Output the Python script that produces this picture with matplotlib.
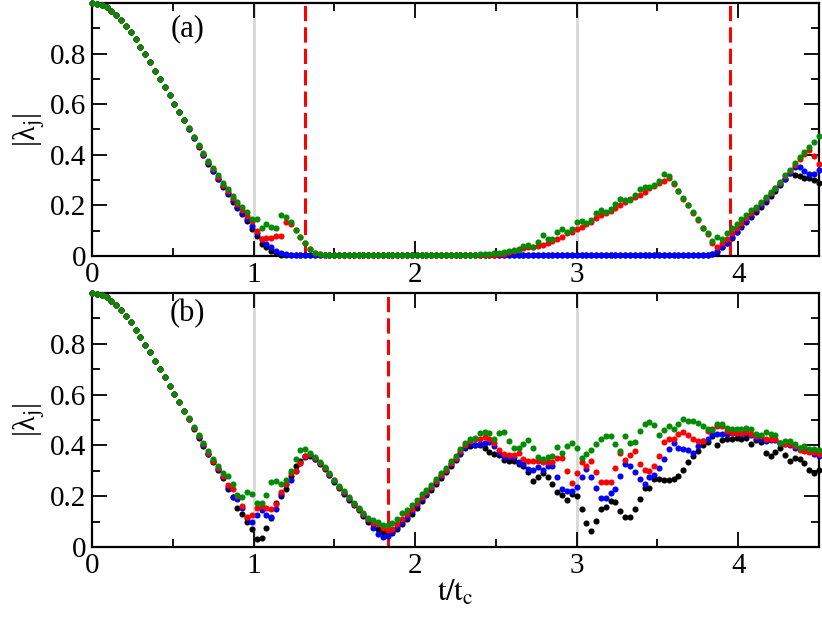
import numpy as np
import matplotlib
matplotlib.use('Agg')
import matplotlib.pyplot as plt
from matplotlib.ticker import MultipleLocator, FixedLocator

plt.rcParams['font.family'] = ['Liberation Serif', 'DejaVu Serif']
plt.rcParams['mathtext.fontset'] = 'stix'

# ── data: |lambda_j| sampled every DT in t/t_c ────────────────────────────────
DT = 0.03

# shared initial decay (t = 0 .. 0.57), identical for all curves in both panels
decay = [1.000, 0.998, 0.993, 0.983, 0.970, 0.953, 0.933, 0.909, 0.884, 0.856,
         0.827, 0.797, 0.766, 0.732, 0.701, 0.669, 0.635, 0.602, 0.570, 0.537]

# panel (a)
green_a = decay + [
    0.506, 0.472, 0.439, 0.408, 0.377,
    0.347, 0.320, 0.290, 0.265, 0.237, 0.215, 0.192, 0.175, 0.148, 0.147,
    0.109, 0.126, 0.113, 0.112, 0.161, 0.154, 0.136, 0.104, 0.075, 0.053,
    0.029, 0.012, 0.006, 0.005, 0.005, 0.005, 0.005, 0.005, 0.005, 0.005,
    0.005, 0.005, 0.005, 0.005, 0.005, 0.005, 0.005, 0.005, 0.005, 0.005,
    0.005, 0.005, 0.005, 0.005, 0.005, 0.005, 0.005, 0.005, 0.005, 0.005,
    0.005, 0.005, 0.005, 0.005, 0.005, 0.006, 0.008, 0.009, 0.010, 0.012,
    0.015, 0.018, 0.022, 0.025, 0.041, 0.045, 0.037, 0.054, 0.083, 0.066,
    0.066, 0.095, 0.105, 0.093, 0.105, 0.136, 0.140, 0.129, 0.142, 0.169,
    0.180, 0.175, 0.186, 0.206, 0.225, 0.221, 0.221, 0.241, 0.265, 0.274,
    0.274, 0.281, 0.298, 0.324, 0.316, 0.287, 0.258, 0.229, 0.202, 0.173,
    0.145, 0.112, 0.090, 0.061, 0.074, 0.066, 0.092, 0.109, 0.125, 0.145,
    0.162, 0.180, 0.195, 0.215, 0.235, 0.252, 0.270, 0.294, 0.320, 0.340,
    0.366, 0.390, 0.410, 0.432, 0.452, 0.474]

red_a = decay + [
    0.505, 0.470, 0.436, 0.404, 0.372,
    0.342, 0.312, 0.282, 0.255, 0.228, 0.205, 0.180, 0.160, 0.140, 0.100,
    0.068, 0.070, 0.070, 0.078, 0.080, 0.135, 0.128, 0.104, 0.075, 0.053,
    0.029, 0.012, 0.006, 0.005, 0.005, 0.005, 0.005, 0.005, 0.005, 0.005,
    0.005, 0.005, 0.005, 0.005, 0.005, 0.005, 0.005, 0.005, 0.005, 0.005,
    0.005, 0.005, 0.005, 0.005, 0.005, 0.005, 0.005, 0.005, 0.005, 0.005,
    0.005, 0.005, 0.005, 0.005, 0.005, 0.005, 0.005, 0.005, 0.005, 0.006,
    0.008, 0.015, 0.020, 0.026, 0.030, 0.034, 0.037, 0.040, 0.045, 0.053,
    0.060, 0.067, 0.076, 0.090, 0.096, 0.105, 0.116, 0.126, 0.136, 0.149,
    0.162, 0.171, 0.179, 0.188, 0.202, 0.215, 0.224, 0.232, 0.241, 0.254,
    0.267, 0.277, 0.287, 0.296, 0.307, 0.285, 0.256, 0.227, 0.200, 0.171,
    0.142, 0.110, 0.085, 0.050, 0.035, 0.050, 0.067, 0.089, 0.110, 0.130,
    0.152, 0.170, 0.190, 0.210, 0.230, 0.250, 0.268, 0.290, 0.315, 0.335,
    0.360, 0.385, 0.405, 0.420, 0.395, 0.364]

blue_a = decay + [
    0.503, 0.468, 0.433, 0.400, 0.368,
    0.337, 0.306, 0.275, 0.250, 0.220, 0.195, 0.170, 0.145, 0.118, 0.090,
    0.066, 0.048, 0.034, 0.020, 0.011, 0.006, 0.004, 0.004, 0.004, 0.004,
    0.004, 0.004, 0.004, 0.004, 0.004, 0.004, 0.004, 0.004, 0.004, 0.004,
    0.004, 0.004, 0.004, 0.004, 0.004, 0.004, 0.004, 0.004, 0.004, 0.004,
    0.004, 0.004, 0.004, 0.004, 0.004, 0.004, 0.004, 0.004, 0.004, 0.004,
    0.004, 0.004, 0.004, 0.004, 0.004, 0.004, 0.004, 0.004, 0.004, 0.004,
    0.004, 0.004, 0.004, 0.004, 0.004, 0.004, 0.004, 0.004, 0.004, 0.004,
    0.004, 0.004, 0.004, 0.004, 0.004, 0.004, 0.004, 0.004, 0.004, 0.004,
    0.004, 0.004, 0.004, 0.004, 0.004, 0.004, 0.004, 0.004, 0.004, 0.004,
    0.004, 0.004, 0.004, 0.004, 0.004, 0.004, 0.004, 0.004, 0.004, 0.004,
    0.004, 0.004, 0.005, 0.008, 0.020, 0.034, 0.052, 0.074, 0.095, 0.118,
    0.140, 0.160, 0.180, 0.200, 0.220, 0.245, 0.265, 0.285, 0.305, 0.330,
    0.353, 0.350, 0.334, 0.324, 0.325, 0.340]

black_a = decay + [
    0.502, 0.466, 0.431, 0.398, 0.365,
    0.335, 0.303, 0.272, 0.245, 0.215, 0.190, 0.165, 0.140, 0.108, 0.078,
    0.048, 0.034, 0.020, 0.010, 0.005, 0.003, 0.003, 0.003, 0.003, 0.003,
    0.003, 0.003, 0.003, 0.003, 0.003, 0.003, 0.003, 0.003, 0.003, 0.003,
    0.003, 0.003, 0.003, 0.003, 0.003, 0.003, 0.003, 0.003, 0.003, 0.003,
    0.003, 0.003, 0.003, 0.003, 0.003, 0.003, 0.003, 0.003, 0.003, 0.003,
    0.003, 0.003, 0.003, 0.003, 0.003, 0.003, 0.003, 0.003, 0.003, 0.003,
    0.003, 0.003, 0.003, 0.003, 0.003, 0.003, 0.003, 0.003, 0.003, 0.003,
    0.003, 0.003, 0.003, 0.003, 0.003, 0.003, 0.003, 0.003, 0.003, 0.003,
    0.003, 0.003, 0.003, 0.003, 0.003, 0.003, 0.003, 0.003, 0.003, 0.003,
    0.003, 0.003, 0.003, 0.003, 0.003, 0.003, 0.003, 0.003, 0.003, 0.003,
    0.003, 0.003, 0.004, 0.006, 0.017, 0.035, 0.050, 0.072, 0.095, 0.115,
    0.135, 0.155, 0.175, 0.195, 0.215, 0.237, 0.258, 0.280, 0.303, 0.327,
    0.320, 0.316, 0.310, 0.310, 0.300, 0.290]

# panel (b)
green_b = decay + [
    0.506, 0.472, 0.439, 0.408, 0.377,
    0.345, 0.320, 0.292, 0.280, 0.250, 0.205, 0.195, 0.215, 0.210, 0.175,
    0.172, 0.205, 0.255, 0.260, 0.250, 0.265, 0.300, 0.345, 0.380, 0.385,
    0.370, 0.355, 0.335, 0.315, 0.290, 0.265, 0.240, 0.220, 0.195, 0.175,
    0.155, 0.135, 0.115, 0.105, 0.100, 0.085, 0.085, 0.095, 0.110, 0.134,
    0.147, 0.167, 0.187, 0.207, 0.226, 0.246, 0.266, 0.290, 0.312, 0.338,
    0.358, 0.385, 0.408, 0.424, 0.429, 0.450, 0.453, 0.447, 0.427, 0.447,
    0.453, 0.417, 0.388, 0.388, 0.404, 0.421, 0.391, 0.355, 0.345, 0.355,
    0.360, 0.395, 0.370, 0.397, 0.410, 0.390, 0.350, 0.368, 0.380, 0.404,
    0.427, 0.437, 0.437, 0.404, 0.377, 0.437, 0.410, 0.413, 0.457, 0.483,
    0.492, 0.479, 0.440, 0.461, 0.477, 0.466, 0.483, 0.503, 0.497, 0.497,
    0.490, 0.477, 0.464, 0.461, 0.483, 0.483, 0.470, 0.466, 0.464, 0.464,
    0.470, 0.464, 0.444, 0.440, 0.453, 0.444, 0.440, 0.410, 0.417, 0.417,
    0.404, 0.390, 0.397, 0.384, 0.384, 0.380]

red_b = decay + [
    0.505, 0.470, 0.436, 0.404, 0.372,
    0.340, 0.312, 0.280, 0.245, 0.228, 0.200, 0.160, 0.120, 0.125, 0.155,
    0.160, 0.155, 0.150, 0.170, 0.215, 0.250, 0.290, 0.300, 0.330, 0.360,
    0.365, 0.350, 0.332, 0.312, 0.287, 0.262, 0.238, 0.215, 0.192, 0.170,
    0.150, 0.130, 0.110, 0.095, 0.090, 0.075, 0.068, 0.072, 0.090, 0.110,
    0.130, 0.150, 0.172, 0.195, 0.217, 0.238, 0.258, 0.282, 0.305, 0.330,
    0.352, 0.378, 0.400, 0.418, 0.425, 0.427, 0.435, 0.427, 0.411, 0.382,
    0.368, 0.364, 0.364, 0.370, 0.347, 0.338, 0.338, 0.338, 0.334, 0.334,
    0.334, 0.349, 0.349, 0.299, 0.253, 0.292, 0.334, 0.320, 0.338, 0.295,
    0.255, 0.255, 0.255, 0.312, 0.370, 0.343, 0.364, 0.377, 0.325, 0.303,
    0.299, 0.320, 0.360, 0.413, 0.424, 0.427, 0.445, 0.453, 0.440, 0.424,
    0.417, 0.417, 0.457, 0.466, 0.477, 0.477, 0.457, 0.450, 0.448, 0.450,
    0.453, 0.444, 0.437, 0.437, 0.427, 0.427, 0.427, 0.410, 0.404, 0.404,
    0.397, 0.380, 0.377, 0.373, 0.373, 0.368]

blue_b = decay + [
    0.503, 0.468, 0.433, 0.400, 0.368,
    0.337, 0.306, 0.275, 0.235, 0.198, 0.190, 0.155, 0.115, 0.098, 0.125,
    0.145, 0.125, 0.120, 0.150, 0.210, 0.250, 0.265, 0.300, 0.330, 0.358,
    0.362, 0.348, 0.330, 0.310, 0.285, 0.260, 0.235, 0.212, 0.190, 0.168,
    0.148, 0.125, 0.105, 0.075, 0.050, 0.040, 0.045, 0.060, 0.080, 0.100,
    0.120, 0.140, 0.165, 0.190, 0.210, 0.232, 0.254, 0.278, 0.300, 0.325,
    0.348, 0.372, 0.395, 0.408, 0.400, 0.404, 0.408, 0.413, 0.397, 0.370,
    0.356, 0.354, 0.354, 0.334, 0.325, 0.308, 0.305, 0.316, 0.305, 0.318,
    0.318, 0.276, 0.229, 0.220, 0.220, 0.237, 0.276, 0.308, 0.276, 0.233,
    0.194, 0.194, 0.213, 0.229, 0.279, 0.325, 0.320, 0.295, 0.268, 0.250,
    0.276, 0.285, 0.312, 0.347, 0.387, 0.408, 0.391, 0.384, 0.382, 0.370,
    0.397, 0.417, 0.424, 0.444, 0.444, 0.444, 0.444, 0.448, 0.448, 0.444,
    0.448, 0.440, 0.430, 0.427, 0.417, 0.421, 0.421, 0.410, 0.404, 0.400,
    0.390, 0.390, 0.387, 0.377, 0.368, 0.358]

black_b = decay + [
    0.502, 0.466, 0.431, 0.398, 0.365,
    0.335, 0.303, 0.270, 0.230, 0.195, 0.155, 0.130, 0.100, 0.070, 0.033,
    0.036, 0.075, 0.115, 0.175, 0.200, 0.230, 0.280, 0.320, 0.340, 0.355,
    0.360, 0.345, 0.328, 0.308, 0.283, 0.257, 0.232, 0.210, 0.187, 0.165,
    0.145, 0.122, 0.100, 0.090, 0.070, 0.060, 0.050, 0.055, 0.070, 0.090,
    0.110, 0.130, 0.155, 0.180, 0.203, 0.226, 0.250, 0.272, 0.296, 0.320,
    0.343, 0.368, 0.390, 0.397, 0.400, 0.400, 0.391, 0.373, 0.368, 0.364,
    0.343, 0.338, 0.338, 0.325, 0.318, 0.295, 0.260, 0.276, 0.290, 0.276,
    0.250, 0.216, 0.203, 0.185, 0.207, 0.201, 0.148, 0.096, 0.063, 0.102,
    0.148, 0.159, 0.181, 0.177, 0.142, 0.120, 0.120, 0.151, 0.190, 0.233,
    0.233, 0.268, 0.266, 0.263, 0.263, 0.268, 0.281, 0.302, 0.334, 0.360,
    0.377, 0.400, 0.413, 0.437, 0.400, 0.421, 0.427, 0.427, 0.430, 0.427,
    0.430, 0.404, 0.421, 0.413, 0.370, 0.360, 0.373, 0.390, 0.364, 0.338,
    0.351, 0.345, 0.331, 0.305, 0.292, 0.305]

# reference lines
gray_lines = [1.0, 3.0]
red_dashed_a = [1.32, 3.95]
red_dashed_b = [1.835]

COLORS = {'black': '#000000', 'blue': '#0000ff', 'red': '#ff0000', 'green': '#008c00'}


def _style_axis(ax):
    ax.set_xlim(0, 4.5)
    ax.set_ylim(0, 1.0)
    ax.xaxis.set_major_locator(MultipleLocator(1))
    ax.xaxis.set_minor_locator(MultipleLocator(0.5))
    ax.yaxis.set_major_locator(FixedLocator([0, 0.2, 0.4, 0.6, 0.8]))
    ax.yaxis.set_minor_locator(MultipleLocator(0.1))
    ax.set_yticklabels(['0', '0.2', '0.4', '0.6', '0.8'])
    ax.tick_params(which='both', direction='in', top=True, right=True,
                   width=1.3, labelsize=21)
    ax.tick_params(which='major', length=11, pad=4)
    ax.tick_params(which='minor', length=6)
    for sp in ax.spines.values():
        sp.set_linewidth(1.6)
    ax.set_ylabel(r'|λ$_{\mathrm{j}}$|', fontsize=22, labelpad=2)


def _draw_panel(ax, series, dashed, tag, tag_y):
    for x in gray_lines:
        ax.axvline(x, color='#d8d8d8', lw=2.0, zorder=1)
    for x in dashed:
        ax.axvline(x, color='#ff0000', lw=2.2, dashes=(5, 2), zorder=2)
    for name in ('black', 'blue', 'red', 'green'):
        y = np.asarray(series[name])
        assert len(y) == 151, (tag, name, len(y))
        t = np.arange(len(y)) * DT
        ax.plot(t, y, 'o', ms=4.4, mew=0, color=COLORS[name], zorder=3,
                clip_on=False)
    ax.text(0.59, tag_y, tag, fontsize=22, ha='center', va='center')
    _style_axis(ax)


fig = plt.figure(figsize=(8.22, 6.18), dpi=100)
W, H = 822, 618
ax_a = fig.add_axes([92 / W, 1 - 256 / H, 727 / W, 253 / H])
ax_b = fig.add_axes([92 / W, 1 - 547 / H, 727 / W, 254 / H])

_draw_panel(ax_a, {'black': black_a, 'blue': blue_a, 'red': red_a, 'green': green_a},
            red_dashed_a, '(a)', 0.90)
_draw_panel(ax_b, {'black': black_b, 'blue': blue_b, 'red': red_b, 'green': green_b},
            red_dashed_b, '(b)', 0.92)

ax_b.set_xlabel(r'$\mathrm{t/t_c}$', fontsize=22, labelpad=0)

fig.savefig('out.png', dpi=100)
